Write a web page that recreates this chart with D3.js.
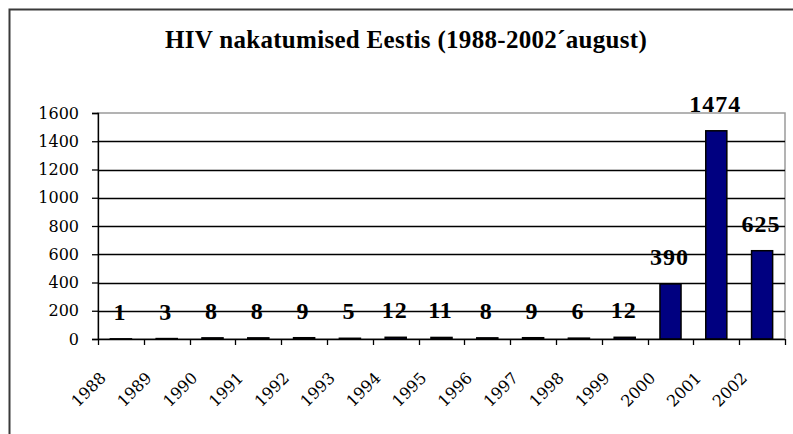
<!DOCTYPE html>
<html>
<head>
<meta charset="utf-8">
<script src="https://cdn.jsdelivr.net/npm/d3@7"></script>
<style>
  html, body { margin: 0; padding: 0; background: #fff; }
  svg { display: block; }
  .serif { font-family: "Liberation Serif", "Times New Roman", serif; }
  .wide { font-family: "DejaVu Serif", serif; }
</style>
</head>
<body>
<svg id="chart" width="793" height="434"></svg>
<script>
const title = "HIV nakatumised Eestis (1988-2002\u00B4august)";
const years = ["1988","1989","1990","1991","1992","1993","1994","1995","1996","1997","1998","1999","2000","2001","2002"];
const cases = [1, 3, 8, 8, 9, 5, 12, 11, 8, 9, 6, 12, 390, 1474, 625];
const yTicks = [0, 200, 400, 600, 800, 1000, 1200, 1400, 1600];

const svg = d3.select("#chart");
const plot = { left: 98, right: 785, top: 113, bottom: 339 };

// outer frame
svg.append("rect")
  .attr("x", 9.5).attr("y", 9.5)
  .attr("width", 800).attr("height", 440)
  .attr("fill", "#fff")
  .attr("stroke", "#3a3a3a").attr("stroke-width", 2);

// title
svg.append("text")
  .attr("class", "serif")
  .attr("x", 406).attr("y", 48)
  .attr("text-anchor", "middle")
  .attr("font-weight", "bold")
  .attr("font-size", 25)
  .attr("letter-spacing", 0.3)
  .attr("fill", "#000")
  .text(title);

const x = d3.scaleBand().domain(years).range([plot.left, plot.right]).padding(0);
const y = d3.scaleLinear().domain([0, 1600]).range([plot.bottom, plot.top]);

// plot area border
svg.append("rect")
  .attr("x", plot.left).attr("y", plot.top)
  .attr("width", plot.right - plot.left).attr("height", plot.bottom - plot.top)
  .attr("fill", "none").attr("stroke", "#9a9a9a").attr("stroke-width", 1.5);

// gridlines
svg.append("g")
  .selectAll("line")
  .data(yTicks.filter(t => t > 0 && t < 1600))
  .join("line")
  .attr("x1", plot.left).attr("x2", plot.right)
  .attr("y1", d => Math.round(y(d)) + 0.5).attr("y2", d => Math.round(y(d)) + 0.5)
  .attr("stroke", "#000").attr("stroke-width", 1.3);

// y axis
const yAxis = d3.axisLeft(y).tickValues(yTicks).tickSize(6).tickPadding(13).tickFormat(d3.format("d"));
const gy = svg.append("g").attr("transform", `translate(${plot.left},0)`).call(yAxis);
gy.attr("font-family", null).attr("font-size", null);
gy.select(".domain").attr("stroke", "#000").attr("stroke-width", 1.3);
gy.selectAll(".tick line").attr("stroke", "#000").attr("stroke-width", 1.3);
gy.selectAll(".tick text")
  .attr("class", "wide")
  .attr("font-size", 16).attr("fill", "#000");

// bars
const barFrac = 0.46;
svg.append("g")
  .selectAll("rect")
  .data(years.map((yr, i) => ({ yr, v: cases[i] })))
  .join("rect")
  .attr("x", d => x(d.yr) + x.bandwidth() * (1 - barFrac) / 2)
  .attr("width", x.bandwidth() * barFrac)
  .attr("y", d => y(d.v))
  .attr("height", d => y(0) - y(d.v))
  .attr("fill", "#000080")
  .attr("stroke", "#000").attr("stroke-width", 1.5);

// x axis (ticks at category boundaries)
svg.append("line")
  .attr("x1", plot.left).attr("x2", plot.right)
  .attr("y1", plot.bottom + 0.5).attr("y2", plot.bottom + 0.5)
  .attr("stroke", "#000").attr("stroke-width", 1.3);
const boundaries = years.map(yr => x(yr)).concat([plot.right]);
svg.append("g").selectAll("line")
  .data(boundaries)
  .join("line")
  .attr("x1", d => Math.round(d) + 0.5).attr("x2", d => Math.round(d) + 0.5)
  .attr("y1", plot.bottom).attr("y2", plot.bottom + 6)
  .attr("stroke", "#000").attr("stroke-width", 1.3);

// x labels rotated
svg.append("g").selectAll("text")
  .data(years)
  .join("text")
  .attr("class", "wide")
  .attr("transform", d => `translate(${x(d) + x.bandwidth() / 2 - 14},379) rotate(-45)`)
  .attr("text-anchor", "end")
  .attr("font-size", 16).attr("fill", "#000")
  .text(d => d);

// data labels
svg.append("g").selectAll("text")
  .data(years.map((yr, i) => ({ yr, v: cases[i] })))
  .join("text")
  .attr("class", "serif")
  .attr("x", d => x(d.yr) + x.bandwidth() / 2 - 1)
  .attr("y", d => y(d.v) - 19)
  .attr("text-anchor", "middle")
  .attr("font-weight", "bold")
  .attr("font-size", 24)
  .attr("letter-spacing", 1)
  .attr("fill", "#000")
  .text(d => d.v);
</script>
</body>
</html>
